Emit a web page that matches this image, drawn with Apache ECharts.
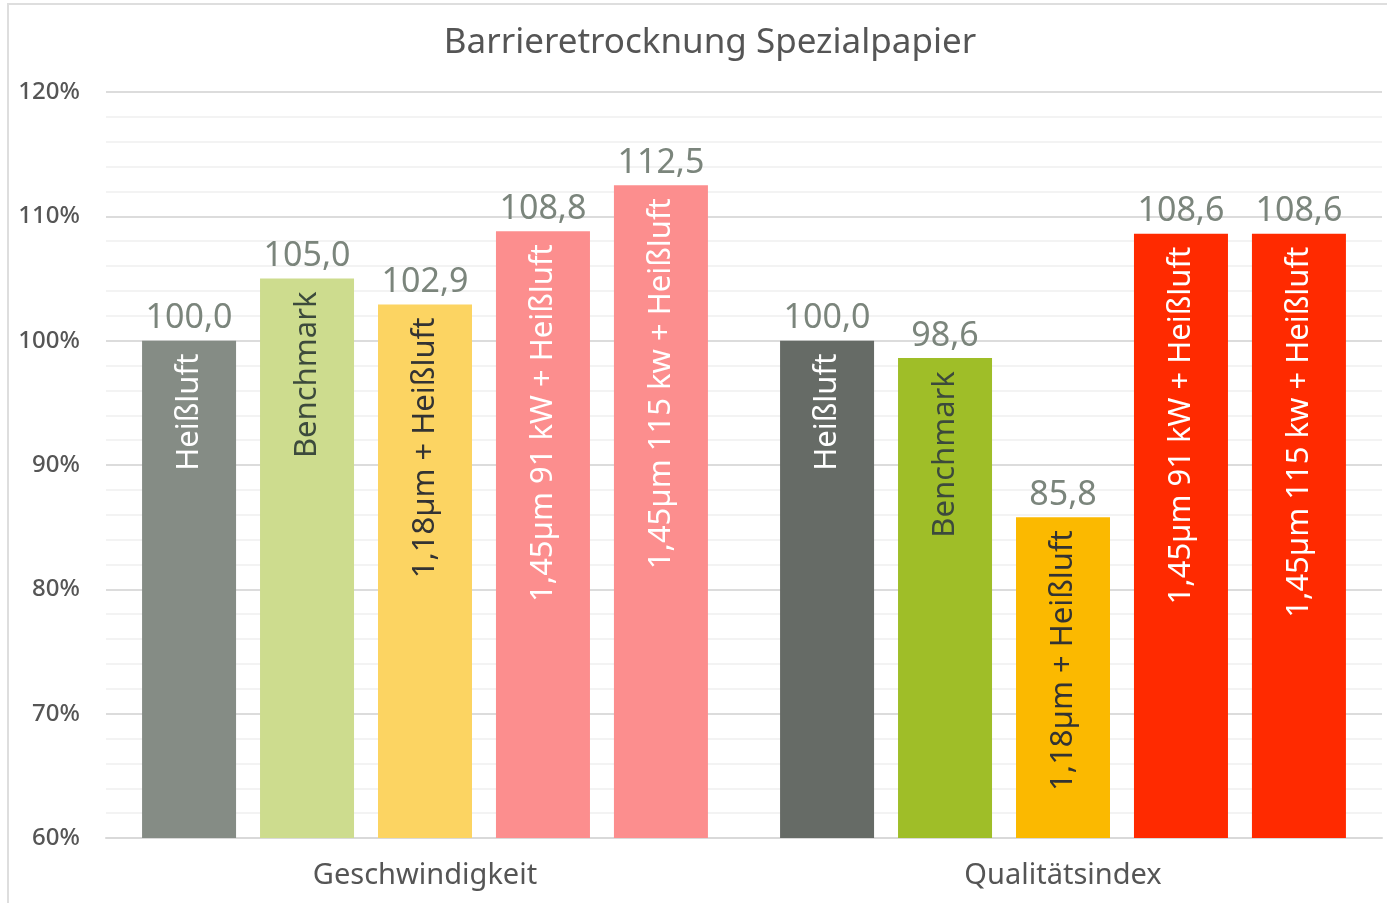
<!DOCTYPE html>
<html>
<head>
<meta charset="utf-8">
<title>Barrieretrocknung Spezialpapier</title>
<script src="https://cdn.jsdelivr.net/npm/echarts@6/dist/echarts.min.js"></script>
<style>
  html, body { margin: 0; padding: 0; background: #fff; }
  #chart { width: 1387px; height: 903px; }
</style>
</head>
<body>
<div id="chart"></div>
<script>
// Kategorien und Werte (in %)
var categories = ['Geschwindigkeit', 'Qualitätsindex']
var seriesNames = ['Heißluft', 'Benchmark', '1,18µm + Heißluft', '1,45µm 91 kW + Heißluft', '1,45µm 115 kw + Heißluft']
var heissluft = [100.0, 100.0]
var benchmark = [105.0, 98.6]
var um118 = [102.9, 85.8]
var um145kw91 = [108.8, 108.6]
var um145kw115 = [112.5, 108.6]
var yTicks = [60, 70, 80, 90, 100, 110, 120]

// Farben je Gruppe (hell = Geschwindigkeit, kräftig = Qualitätsindex)
var barColors = [
  ['#858c85', '#666b66'],
  ['#cddc8e', '#9fbe28'],
  ['#fcd462', '#fbb900'],
  ['#fc8e8e', '#ff2a00'],
  ['#fc8e8e', '#ff2a00']
]
var innerTextColors = ['#ffffff', '#3c4a3c', '#333333', '#ffffff', '#ffffff']

var allValues = [heissluft, benchmark, um118, um145kw91, um145kw115]
var font = '"Noto Sans", "Open Sans", sans-serif'

function fmt (v) {
  return v.toFixed(1).replace('.', ',')
}

var series = []
allValues.forEach(function (vals, i) {
  // eigentlicher Balken mit Namen im Balken
  series.push({
    name: seriesNames[i],
    type: 'bar',
    stack: 's' + i,
    barWidth: 94,
    barGap: '25.5%',
    data: vals.map(function (v, j) {
      return { value: v, itemStyle: { color: barColors[i][j] } }
    }),
    label: {
      show: true,
      position: 'insideTop',
      distance: 13,
      rotate: 90,
      align: 'right',
      verticalAlign: 'middle',
      formatter: seriesNames[i],
      color: innerTextColors[i],
      fontFamily: font,
      fontSize: 31
    },
    silent: true
  })
  // Hilfsreihe für den Wert über dem Balken
  series.push({
    name: seriesNames[i] + ' Wert',
    type: 'bar',
    stack: 's' + i,
    barWidth: 94,
    data: vals.map(function () { return 0 }),
    itemStyle: { color: 'transparent' },
    label: {
      show: true,
      position: 'top',
      distance: 5,
      formatter: function (p) { return fmt(vals[p.dataIndex]) },
      color: '#7b857c',
      fontFamily: font,
      fontSize: 34
    },
    silent: true
  })
})

var myChart = echarts.init(document.getElementById('chart'))
myChart.setOption({
  animation: false,
  title: {
    text: 'Barrieretrocknung Spezialpapier',
    left: 705,
    textAlign: 'center',
    top: 21,
    textStyle: {
      fontFamily: font,
      fontSize: 35,
      fontWeight: 'normal',
      color: '#555555'
    }
  },
  graphic: [
    {
      type: 'rect',
      shape: { x: 8, y: 4, width: 1400, height: 940 },
      style: { fill: 'none', stroke: '#dedede', lineWidth: 2 },
      silent: true
    }
  ],
  grid: {
    left: 106,
    right: 5,
    top: 92,
    bottom: 65,
    containLabel: false
  },
  xAxis: {
    type: 'category',
    data: categories,
    axisTick: { show: false },
    axisLine: { show: true, lineStyle: { color: '#d9d9d9', width: 2 } },
    axisLabel: {
      margin: 23,
      fontFamily: font,
      fontSize: 29,
      color: '#555555'
    }
  },
  yAxis: {
    type: 'value',
    min: yTicks[0],
    max: yTicks[yTicks.length - 1],
    interval: 10,
    axisLine: { show: false },
    axisTick: { show: false },
    axisLabel: {
      margin: 26,
      fontFamily: font,
      fontSize: 24,
      fontWeight: 500,
      color: '#555555',
      formatter: '{value}%'
    },
    splitLine: { show: true, lineStyle: { color: '#dcdcdc', width: 2 } },
    minorTick: { show: false, splitNumber: 5 },
    minorSplitLine: { show: true, lineStyle: { color: '#efefef', width: 1.5 } }
  },
  series: series
})
</script>
</body>
</html>
